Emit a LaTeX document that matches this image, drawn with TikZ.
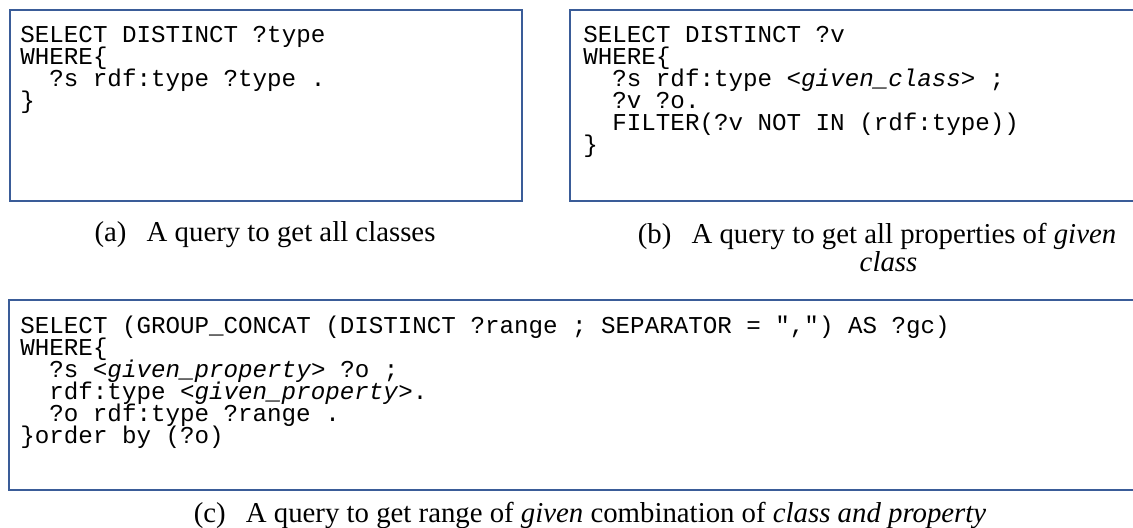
\documentclass[tikz,border=0pt]{standalone}
\usepackage{fontspec}
\setmainfont{Liberation Serif}
\setmonofont{Liberation Mono}
\usepackage{xcolor}
\usetikzlibrary{positioning}
\definecolor{boxline}{HTML}{3A5C98}
\newcommand{\qind}{\hspace*{14.5pt}}
\newcommand{\qfont}{\ttfamily\fontsize{12.1pt}{11pt}\selectfont\lineskiplimit=-100pt\relax}

\begin{document}
\begin{tikzpicture}[
    x=0.5pt, y=-0.5pt,
    qbox/.style={draw=boxline, line width=1pt, anchor=north west, inner sep=0pt, minimum height=95.5pt},
    qcode/.style={anchor=north west, inner sep=0pt, align=left, font=\qfont},
    qcap/.style={align=center, font=\fontsize{14.4pt}{14pt}\selectfont},
]
    \useasboundingbox (0,0) rectangle (1133,528);
    \clip (0,0) rectangle (1133,528);

    % Boxes
    \node[qbox, minimum width=256pt] (boxa) at (9,9) {};
    \node[qbox, minimum width=285.5pt] (boxb) at (569,9) {};
    \node[qbox, minimum width=566pt, minimum height=95pt] (boxc) at (8,299) {};

    % Queries
    \node[qcode] (querya) at (20,26) {SELECT DISTINCT ?type\\
        WHERE\{\\
        \qind ?s rdf:type ?type .\\
        \}};
    \node[qcode] (queryb) at (583,26) {SELECT DISTINCT ?v\\
        WHERE\{\\
        \qind ?s rdf:type <\textit{given\_class}> ;\\
        \qind ?v ?o.\\
        \qind FILTER(?v NOT IN (rdf:type))\\
        \}};
    \node[qcode] (queryc) at (20,316) {SELECT (GROUP\_CONCAT (DISTINCT ?range ; SEPARATOR = ",") AS ?gc)\\
        WHERE\{\\
        \qind ?s <\textit{given\_property}> ?o ;\\
        \qind rdf:type <\textit{given\_property}>.\\
        \qind ?o rdf:type ?range .\\
        \}order by (?o)};

    % Captions
    \node[qcap] (capa) at (265,235) {(a)\hspace{0.7em}A query to get all classes};
    \node[qcap] (capb) at (877,248) {(b)\hspace{0.7em}A query to get all properties of \textit{given}\\\hspace*{0.8em}\textit{class}};
    \node[qcap] (capc) at (590,515) {(c)\hspace{0.7em}A query to get range of \textit{given} combination of \textit{class and property}};
\end{tikzpicture}
\end{document}
